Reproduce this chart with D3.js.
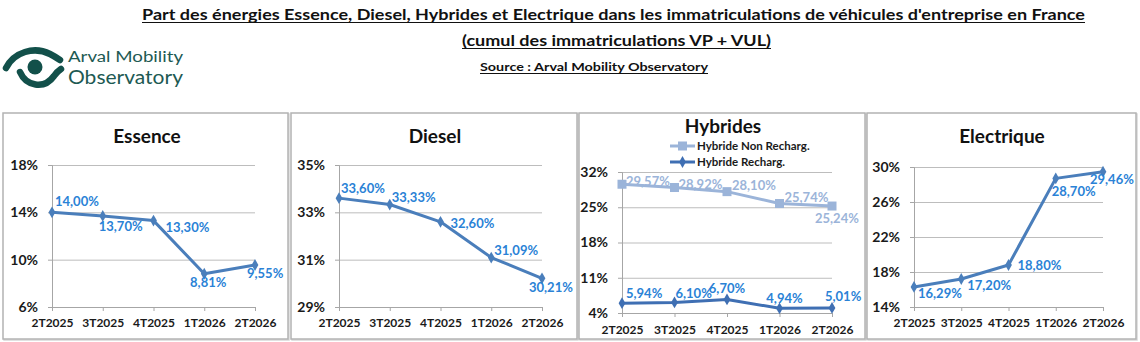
<!DOCTYPE html>
<html><head><meta charset="utf-8">
<script src="https://cdn.jsdelivr.net/npm/d3@7"></script>
<style>
html,body{margin:0;padding:0;background:#fff;}
svg{display:block;font-family:Lato,"Open Sans",sans-serif;}
</style></head>
<body>
<svg id="c" width="1140" height="342"></svg>
<script>
// ---- data ----
const categories = ["2T2025","3T2025","4T2025","1T2026","2T2026"];
const essence    = [14.00, 13.70, 13.30, 8.81, 9.55];
const diesel     = [33.60, 33.33, 32.60, 31.09, 30.21];
const hybNonRech = [29.57, 28.92, 28.10, 25.74, 25.24];
const hybRech    = [5.94, 6.10, 6.70, 4.94, 5.01];
const electrique = [16.29, 17.20, 18.80, 28.70, 29.46];
const essenceTicks    = [6, 10, 14, 18];
const dieselTicks     = [29, 31, 33, 35];
const hybridesTicks   = [4, 11, 18, 25, 32];
const electriqueTicks = [14, 18, 22, 26, 30];
const seriesNames = ["Hybride Non Recharg.", "Hybride Recharg."];
const titles = ["Essence", "Diesel", "Hybrides", "Electrique"];

// ---- layout / style ----
const lineBlue = "#4a7ebb", labelBlue = "#2a82d6", lightBlue = "#9bb4d9", darkBlue = "#3f6fb3";
const fmt = v => d3.format(".2f")(v).replace(".", ",") + "%";

const panels = [
  {title: titles[0], box: [3, 113, 288, 339], x: [52, 255], y: [307, 165], domain: [6, 18], ticks: essenceTicks,
   titleX: 147, titleY: 143, xLabY: 327,
   series: [{values: essence, color: lineBlue, marker: "diamond", lab: labelBlue,
     pos: [[3,-6,"start"],[-4,15,"start"],[12,11,"start"],[4,13,"middle"],[-8,13,"start"]]}]},
  {title: titles[1], box: [291, 113, 577, 339], x: [339, 542], y: [307, 165], domain: [29, 35], ticks: dieselTicks,
   titleX: 435, titleY: 143, xLabY: 327,
   series: [{values: diesel, color: lineBlue, marker: "diamond", lab: labelBlue,
     pos: [[2,-5,"start"],[2,-3,"start"],[10,6,"start"],[3,-3,"start"],[-13,14,"start"]]}]},
  {title: titles[2], box: [579, 113, 865, 339], x: [622, 832], y: [313, 172], domain: [4, 32], ticks: hybridesTicks,
   titleX: 723, titleY: 133, xLabY: 334, legend: true,
   series: [
    {name: seriesNames[0], values: hybNonRech, color: lightBlue, marker: "square", lab: lightBlue,
     pos: [[4,2,"start"],[4,1,"start"],[5,-2,"start"],[5,-2,"start"],[-17,17,"start"]]},
    {name: seriesNames[1], values: hybRech, color: darkBlue, marker: "diamond", lab: labelBlue,
     pos: [[4,-5,"start"],[1,-4,"start"],[0,-6,"middle"],[5,-5,"middle"],[-7,-7,"start"]]}]},
  {title: titles[3], box: [867, 113, 1136, 339], x: [914, 1103], y: [307, 167], domain: [14, 30], ticks: electriqueTicks,
   titleX: 1002, titleY: 143, xLabY: 327,
   series: [{values: electrique, color: lineBlue, marker: "diamond", lab: labelBlue,
     pos: [[4,11,"start"],[6,11,"start"],[9,5,"start"],[-4,18,"start"],[-13,12,"start"]]}]}
];

const svg = d3.select("#c");

// ---- header ----
function uText(txt, x0, x1, yb, size, weight) {
  svg.append("text").attr("x", x0).attr("y", yb).attr("font-size", size).attr("font-weight", weight)
    .attr("fill", "#111").attr("textLength", x1 - x0).attr("lengthAdjust", "spacingAndGlyphs").text(txt);
  svg.append("line").attr("x1", x0).attr("x2", x1).attr("y1", yb + 2.5).attr("y2", yb + 2.5)
    .attr("stroke", "#111").attr("stroke-width", 1);
}
uText("Part des énergies Essence, Diesel, Hybrides et Electrique dans les immatriculations de véhicules d'entreprise en France", 142, 1085, 20, 14.5, "bold");
uText("(cumul des immatriculations VP + VUL)", 462, 771, 46, 14.5, "bold");
uText("Source : Arval Mobility Observatory", 480, 708, 71, 11, "bold");

// ---- logo ----
const logo = svg.append("g").attr("fill", "none").attr("stroke", "#12504a").attr("stroke-linecap", "round");
logo.append("path").attr("d", "M6,68 C14,52 34,46 50,54 C54,56 57,58 60,60").attr("stroke-width", 6.5);
logo.append("path").attr("d", "M20,72 C26,86 44,90 54,76 C56,73 58,71 61,69").attr("stroke-width", 6.5);
svg.append("circle").attr("cx", 35).attr("cy", 67).attr("r", 7.5).attr("fill", "#12504a");
svg.append("text").attr("x", 68).attr("y", 62).attr("font-size", 15.5).attr("fill", "#1e5a53")
  .attr("textLength", 115).attr("lengthAdjust", "spacingAndGlyphs").text("Arval Mobility");
svg.append("text").attr("x", 68).attr("y", 84).attr("font-size", 18.5).attr("fill", "#1e5a53")
  .attr("textLength", 115).attr("lengthAdjust", "spacingAndGlyphs").text("Observatory");

// ---- markers ----
function drawMarker(g, type, cx, cy, color) {
  if (type === "square") {
    g.append("rect").attr("x", cx - 4.5).attr("y", cy - 4.5).attr("width", 9).attr("height", 9).attr("fill", color);
  } else {
    g.append("path").attr("d", d3.symbol(d3.symbolDiamond, 40)()).attr("transform", `translate(${cx},${cy})`).attr("fill", color);
  }
}

// ---- panels ----
panels.forEach(p => {
  const g = svg.append("g");
  const [bx0, by0, bx1, by1] = p.box;
  g.append("rect").attr("x", bx0 + 1).attr("y", by0 + 1).attr("width", bx1 - bx0).attr("height", by1 - by0)
    .attr("fill", "none").attr("stroke", "#d8d8d8").attr("stroke-width", 1.5);
  g.append("rect").attr("x", bx0).attr("y", by0).attr("width", bx1 - bx0).attr("height", by1 - by0)
    .attr("fill", "#fff").attr("stroke", "#b3b3b3").attr("stroke-width", 1.5);

  const x = d3.scalePoint().domain(categories).range(p.x).padding(0);
  const y = d3.scaleLinear().domain(p.domain).range(p.y);

  // gridlines
  const grid = g.append("g").attr("transform", `translate(${p.x[0]},0)`)
    .call(d3.axisRight(y).tickValues(p.ticks).tickSize(p.x[1] - p.x[0]).tickFormat(""));
  grid.select(".domain").remove();
  grid.selectAll("line").attr("stroke", "#bdbdbd").attr("stroke-width", 1);

  // y axis
  const ya = g.append("g").attr("transform", `translate(${p.x[0]},0)`)
    .call(d3.axisLeft(y).tickValues(p.ticks).tickSize(4).tickPadding(10).tickFormat(d => d + "%"));
  ya.select(".domain").attr("stroke", "#a6a6a6");
  ya.selectAll("line").attr("stroke", "#a6a6a6");
  ya.selectAll("text").attr("font-size", 14).attr("font-weight", "bold").attr("fill", "#1a1a1a")
    .attr("font-family", "Lato, sans-serif");

  // x axis
  const xa = g.append("g").attr("transform", `translate(0,${p.y[0]})`)
    .call(d3.axisBottom(x).tickSize(4).tickSizeOuter(0));
  xa.select(".domain").attr("stroke", "#a6a6a6");
  xa.selectAll("line").attr("stroke", "#a6a6a6");
  xa.selectAll("text").attr("font-size", 12).attr("font-weight", "bold").attr("fill", "#1a1a1a")
    .attr("font-family", "Lato, sans-serif").attr("dy", null).attr("y", p.xLabY - p.y[0]);

  // title
  g.append("text").attr("x", p.titleX).attr("y", p.titleY).attr("text-anchor", "middle")
    .attr("font-size", 19).attr("font-weight", "bold").attr("fill", "#111").text(p.title);

  // series
  const line = d3.line().x((d, i) => x(categories[i])).y(d => y(d));
  p.series.forEach(s => {
    g.append("path").datum(s.values).attr("d", line).attr("fill", "none")
      .attr("stroke", s.color).attr("stroke-width", 3).attr("stroke-linejoin", "round");
    s.values.forEach((v, i) => drawMarker(g, s.marker, x(categories[i]), y(v), s.color));
    s.values.forEach((v, i) => {
      const [dx, dy, anc] = s.pos[i];
      g.append("text").attr("x", x(categories[i]) + dx).attr("y", y(v) + dy).attr("text-anchor", anc)
        .attr("font-size", 13).attr("font-weight", "bold").attr("fill", s.lab).text(fmt(v));
    });
  });

  // legend
  if (p.legend) {
    p.series.forEach((s, k) => {
      const ly = 146 + k * 16;
      g.append("line").attr("x1", 670).attr("x2", 695).attr("y1", ly).attr("y2", ly)
        .attr("stroke", s.color).attr("stroke-width", 3);
      drawMarker(g, s.marker, 682.5, ly, s.color);
      g.append("text").attr("x", 697).attr("y", ly + 4).attr("font-size", 11.5).attr("font-weight", "bold")
        .attr("fill", "#1a1a1a").text(s.name);
    });
  }
});
</script>
</body></html>
